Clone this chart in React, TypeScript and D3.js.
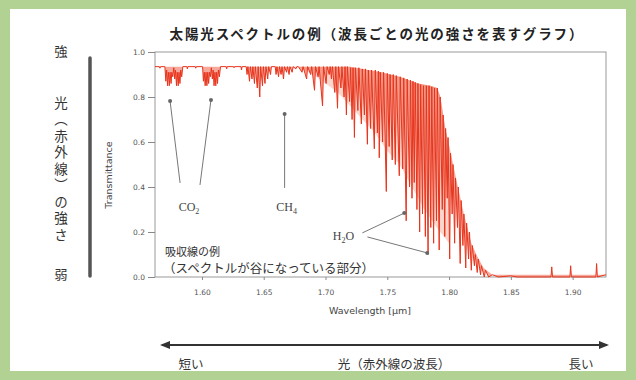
import React, { useEffect, useRef } from 'react';
import * as d3 from 'd3';

const TITLE = '太陽光スペクトルの例（波長ごとの光の強さを表すグラフ）';
const X_TICKS = [1.6, 1.65, 1.7, 1.75, 1.8, 1.85, 1.9];
const Y_TICKS = [0, 0.2, 0.4, 0.6, 0.8, 1.0];

// 透過率スペクトル [波長 µm, 透過率]
const SPECTRUM: [number, number][] = [
  [1.562, 0.935], [1.5655, 0.935], [1.566, 0.928], [1.5665, 0.935],
  [1.57, 0.935], [1.5708, 0.87], [1.5714, 0.92], [1.5722, 0.85], [1.5728, 0.91], [1.5736, 0.85],
  [1.5742, 0.91], [1.575, 0.86], [1.5756, 0.91], [1.5764, 0.89], [1.5772, 0.93], [1.578, 0.88],
  [1.5786, 0.92], [1.5794, 0.85], [1.58, 0.91], [1.5808, 0.85], [1.5814, 0.91], [1.5822, 0.86],
  [1.5828, 0.92], [1.5836, 0.89], [1.5845, 0.935],
  [1.5878, 0.935], [1.5882, 0.925], [1.5886, 0.935], [1.5946, 0.935], [1.595, 0.928], [1.5954, 0.935],
  [1.6005, 0.935], [1.6012, 0.87], [1.6019, 0.91], [1.6026, 0.85], [1.6033, 0.91], [1.604, 0.85],
  [1.6047, 0.91], [1.6054, 0.86], [1.6061, 0.91], [1.6068, 0.89], [1.6076, 0.93], [1.6084, 0.88],
  [1.6091, 0.92], [1.6098, 0.85], [1.6105, 0.91], [1.6112, 0.85], [1.6119, 0.91], [1.6126, 0.86],
  [1.6133, 0.92], [1.6141, 0.89], [1.615, 0.935],
  [1.6196, 0.935], [1.62, 0.925], [1.6204, 0.935], [1.6256, 0.935], [1.626, 0.93], [1.6264, 0.935],
  [1.6316, 0.935], [1.632, 0.92], [1.6325, 0.935],
  [1.6358, 0.935], [1.6365, 0.9], [1.6372, 0.935], [1.6385, 0.87], [1.6392, 0.935], [1.6405, 0.88],
  [1.6412, 0.935], [1.6425, 0.86], [1.6432, 0.935], [1.6448, 0.84], [1.6455, 0.935], [1.6468, 0.8],
  [1.6475, 0.935], [1.649, 0.85], [1.6497, 0.935], [1.651, 0.86], [1.6518, 0.935], [1.6532, 0.88],
  [1.654, 0.935], [1.6555, 0.9], [1.6562, 0.935],
  [1.6593, 0.935], [1.66, 0.9], [1.6607, 0.935], [1.662, 0.89], [1.6628, 0.935], [1.664, 0.9],
  [1.6648, 0.935], [1.666, 0.88], [1.6668, 0.935], [1.6685, 0.91], [1.6692, 0.935], [1.6705, 0.9],
  [1.6712, 0.935], [1.673, 0.91], [1.6738, 0.935], [1.676, 0.925], [1.6768, 0.935],
  [1.678, 0.935], [1.681, 0.91], [1.6818, 0.935], [1.6847, 0.88], [1.6855, 0.935], [1.688, 0.9],
  [1.6888, 0.935], [1.6911, 0.83], [1.6919, 0.935], [1.694, 0.89], [1.6948, 0.935], [1.6976, 0.76],
  [1.6984, 0.935], [1.7005, 0.86], [1.7013, 0.935], [1.703, 0.9], [1.7038, 0.935], [1.7048, 0.88],
  [1.7056, 0.935], [1.7075, 0.82], [1.7083, 0.935], [1.7097, 0.75], [1.7105, 0.935], [1.7125, 0.84],
  [1.7133, 0.935], [1.715, 0.8], [1.7158, 0.935], [1.7169, 0.72], [1.7177, 0.935], [1.7195, 0.78],
  [1.7203, 0.93], [1.7215, 0.7], [1.7223, 0.93], [1.7234, 0.62], [1.7242, 0.93], [1.7262, 0.74],
  [1.727, 0.93], [1.729, 0.68], [1.7298, 0.925], [1.7315, 0.72], [1.7323, 0.925], [1.7339, 0.59],
  [1.7347, 0.92], [1.7365, 0.66], [1.7373, 0.92], [1.7395, 0.57], [1.7403, 0.92], [1.742, 0.64],
  [1.7428, 0.915], [1.7435, 0.53], [1.7443, 0.91], [1.7462, 0.6], [1.747, 0.91], [1.7492, 0.38],
  [1.75, 0.905], [1.7515, 0.58], [1.7523, 0.9], [1.754, 0.52], [1.7548, 0.9], [1.7565, 0.5],
  [1.7573, 0.895], [1.7597, 0.45], [1.7605, 0.89], [1.7625, 0.48], [1.7633, 0.885], [1.7653, 0.25],
  [1.7661, 0.88], [1.768, 0.4], [1.7688, 0.875], [1.77, 0.35], [1.7708, 0.87], [1.7718, 0.42],
  [1.7726, 0.865], [1.774, 0.3], [1.7748, 0.86], [1.7762, 0.2], [1.777, 0.855], [1.7785, 0.28],
  [1.7793, 0.85], [1.7808, 0.18], [1.7816, 0.85], [1.783, 0.1], [1.7838, 0.85], [1.7852, 0.22],
  [1.786, 0.845], [1.7875, 0.15], [1.7882, 0.84], [1.7898, 0.25], [1.7905, 0.84], [1.792, 0.12],
  [1.7928, 0.8], [1.7945, 0.3], [1.7952, 0.72], [1.7965, 0.18], [1.7972, 0.66], [1.7985, 0.35],
  [1.7992, 0.62], [1.8005, 0.08], [1.8012, 0.55], [1.8025, 0.28], [1.8032, 0.5], [1.8045, 0.15],
  [1.8052, 0.44], [1.8068, 0.22], [1.8075, 0.4], [1.809, 0.06], [1.8098, 0.34], [1.8112, 0.14],
  [1.812, 0.28], [1.8135, 0.04], [1.8142, 0.24], [1.8158, 0.08], [1.8165, 0.2], [1.818, 0.03],
  [1.8188, 0.14], [1.8205, 0.05], [1.8212, 0.1], [1.8228, 0.02], [1.8236, 0.08], [1.8255, 0.01],
  [1.8262, 0.05], [1.8285, 0.0], [1.8295, 0.03], [1.832, 0.0], [1.835, 0.01], [1.84, 0.0],
  [1.85, 0.005], [1.855, 0.0], [1.8825, 0.0], [1.8831, 0.045], [1.8837, 0.0], [1.8978, 0.0],
  [1.8984, 0.05], [1.899, 0.0], [1.9188, 0.0], [1.9194, 0.06], [1.92, 0.0], [1.927, 0.01],
];

// 吸収のない部分の上側の包絡線
const CONTINUUM: [number, number][] = [
  [1.562, 0.935], [1.72, 0.935], [1.73, 0.925], [1.745, 0.91], [1.76, 0.89], [1.775, 0.86],
  [1.785, 0.85], [1.7905, 0.84], [1.793, 0.8], [1.797, 0.66], [1.801, 0.56], [1.806, 0.43],
  [1.812, 0.28], [1.818, 0.15], [1.823, 0.09], [1.828, 0.04], [1.835, 0.01], [1.927, 0.01],
];

// 吸収線が密集している部分の下側の目安（薄い塗り）
const DENSE_TOP: [number, number][] = [
  [1.678, 0.935], [1.72, 0.935], [1.73, 0.925], [1.745, 0.91], [1.76, 0.89], [1.775, 0.86],
  [1.785, 0.85], [1.7905, 0.84], [1.793, 0.8], [1.797, 0.66], [1.8, 0.58],
];
const DENSE_LOWER: [number, number][] = [
  [1.678, 0.935], [1.69, 0.9], [1.70, 0.86], [1.71, 0.82], [1.72, 0.76], [1.73, 0.7],
  [1.74, 0.64], [1.75, 0.56], [1.76, 0.5], [1.77, 0.4], [1.78, 0.3], [1.79, 0.22], [1.8, 0.15],
];

// 吸収線の注釈（データ座標）
const ANNOTATIONS = [
  { label: 'CO', sub: '2', at: [1.5895, 0.293], lines: [[[1.5823, 0.418], [1.5742, 0.782]], [[1.5984, 0.409], [1.6073, 0.787]]] },
  { label: 'CH', sub: '4', at: [1.6685, 0.293], lines: [[[1.6669, 0.396], [1.6669, 0.724]]] },
  { label: 'H', sub: '2', tail: 'O', at: [1.7145, 0.164], lines: [[[1.7298, 0.196], [1.7637, 0.284]], [[1.7339, 0.178], [1.7823, 0.107]]] },
];

const JP = '"Noto Sans CJK JP", sans-serif';
const SANS = '"DejaVu Sans", sans-serif';
const SERIF = '"Liberation Serif", serif';

export default function App() {
  const svgRef = useRef<SVGSVGElement>(null);

  useEffect(() => {
    if (!svgRef.current) return;
    const svg = d3.select(svgRef.current);
    svg.selectAll('*').remove();

    const W = 636, H = 380;
    const left = 155, right = 606, top = 52, bottom = 277;

    // 背景（緑の枠）
    svg.append('rect').attr('width', W).attr('height', H).attr('fill', '#b1d293');
    svg.append('rect').attr('x', 10).attr('y', 9).attr('width', W - 20).attr('height', H - 18).attr('fill', '#ffffff');

    const defs = svg.append('defs');
    defs.append('marker')
      .attr('id', 'arr')
      .attr('viewBox', '0 0 10 10')
      .attr('refX', 8).attr('refY', 5)
      .attr('markerWidth', 5).attr('markerHeight', 5)
      .attr('orient', 'auto-start-reverse')
      .append('path').attr('d', 'M0,1 L10,5 L0,9 Z').attr('fill', '#333');

    const x = d3.scaleLinear().domain([1.562, 1.927]).range([left, right]);
    const y = d3.scaleLinear().domain([0, 1]).range([bottom, top]);

    // タイトル
    svg.append('text')
      .attr('x', 376).attr('y', 39)
      .attr('text-anchor', 'middle')
      .attr('textLength', 413)
      .attr('lengthAdjust', 'spacing')
      .style('font-family', JP).style('font-size', '13.5px').style('font-weight', 'bold')
      .attr('fill', '#222')
      .text(TITLE);

    // プロット枠
    svg.append('rect')
      .attr('x', left).attr('y', top)
      .attr('width', right - left).attr('height', bottom - top)
      .attr('fill', '#fff').attr('stroke', '#999').attr('stroke-width', 1);

    const line = d3.line<[number, number]>().x(d => x(d[0])).y(d => y(d[1]));

    // 密集部分の薄い塗り
    svg.append('path')
      .attr('d', line([...DENSE_TOP, ...DENSE_LOWER.slice().reverse()]) + 'Z')
      .attr('fill', '#f8b4a4')
      .attr('opacity', 0.55);

    // 吸収部分の塗り
    svg.append('path')
      .attr('d', line([...CONTINUUM, ...SPECTRUM.slice().reverse()]) + 'Z')
      .attr('fill', '#f07058')
      .attr('opacity', 0.6);

    // スペクトル
    svg.append('path')
      .datum(SPECTRUM)
      .attr('d', line)
      .attr('fill', 'none')
      .attr('stroke', '#e8341c')
      .attr('stroke-width', 1);

    // 軸
    const gy = svg.append('g')
      .attr('transform', `translate(${left},0)`)
      .call(d3.axisLeft(y).tickValues(Y_TICKS).tickFormat(d3.format('.1f')).tickSize(7).tickPadding(3));
    const gx = svg.append('g')
      .attr('transform', `translate(0,${bottom})`)
      .call(d3.axisBottom(x).tickValues(X_TICKS).tickFormat(d3.format('.2f')).tickSize(3).tickPadding(10));
    [gx, gy].forEach(g => {
      g.select('.domain').remove();
      g.selectAll('line').attr('stroke', '#888');
      g.selectAll('text').attr('fill', '#555').style('font-family', SANS).style('font-size', '7.5px');
    });

    svg.append('text')
      .attr('x', 370).attr('y', 314)
      .attr('text-anchor', 'middle')
      .style('font-family', SANS).style('font-size', '9.5px')
      .attr('fill', '#444')
      .text('Wavelength [µm]');

    svg.append('text')
      .attr('transform', 'translate(112,175) rotate(-90)')
      .attr('text-anchor', 'middle')
      .style('font-family', SANS).style('font-size', '9.5px')
      .attr('fill', '#444')
      .text('Transmittance');

    // 注釈
    ANNOTATIONS.forEach(a => {
      a.lines.forEach(([p0, p1]) => {
        svg.append('line')
          .attr('x1', x(p0[0])).attr('y1', y(p0[1]))
          .attr('x2', x(p1[0])).attr('y2', y(p1[1]))
          .attr('stroke', '#777').attr('stroke-width', 1);
        svg.append('circle')
          .attr('cx', x(p1[0])).attr('cy', y(p1[1])).attr('r', 2)
          .attr('fill', '#666');
      });
      const t = svg.append('text')
        .attr('x', x(a.at[0])).attr('y', y(a.at[1]))
        .attr('text-anchor', 'middle')
        .style('font-family', SERIF).style('font-size', '12px')
        .attr('fill', '#444');
      t.append('tspan').text(a.label);
      t.append('tspan').attr('dy', 3).style('font-size', '8px').text(a.sub);
      if (a.tail) t.append('tspan').attr('dy', -3).text(a.tail);
    });

    svg.append('text')
      .attr('x', 165).attr('y', 256)
      .style('font-family', JP).style('font-size', '11px')
      .attr('fill', '#333')
      .text('吸収線の例');
    svg.append('text')
      .attr('x', 163).attr('y', 273)
      .style('font-family', JP).style('font-size', '12.5px')
      .attr('fill', '#333')
      .text('（スペクトルが谷になっている部分）');

    // 縦方向：光の強さ
    svg.append('line')
      .attr('x1', 90).attr('y1', 58).attr('x2', 90).attr('y2', 276)
      .attr('stroke', '#555').attr('stroke-width', 3.5).attr('stroke-linecap', 'round');
    svg.append('text')
      .attr('x', 61).attr('y', 56)
      .attr('text-anchor', 'middle')
      .style('font-family', JP).style('font-size', '13px')
      .attr('fill', '#333')
      .text('強');
    svg.append('text')
      .attr('x', 61).attr('y', 170)
      .attr('text-anchor', 'middle')
      .style('writing-mode', 'vertical-rl')
      .style('letter-spacing', '3px')
      .style('font-family', JP).style('font-size', '13.5px')
      .attr('fill', '#333')
      .text('光（赤外線）の強さ');
    svg.append('text')
      .attr('x', 61).attr('y', 279)
      .attr('text-anchor', 'middle')
      .style('font-family', JP).style('font-size', '13px')
      .attr('fill', '#333')
      .text('弱');

    // 横方向：波長
    svg.append('line')
      .attr('x1', 162).attr('y1', 345).attr('x2', 607).attr('y2', 345)
      .attr('stroke', '#333').attr('stroke-width', 2)
      .attr('marker-start', 'url(#arr)').attr('marker-end', 'url(#arr)');
    [['短い', 191], ['光（赤外線の波長）', 394], ['長い', 581]].forEach(([s, cx]) => {
      svg.append('text')
        .attr('x', cx as number).attr('y', 369)
        .attr('text-anchor', 'middle')
        .style('font-family', JP).style('font-size', '12.5px')
        .attr('fill', '#333')
        .text(s as string);
    });
  }, []);

  return (
    <svg ref={svgRef} width={636} height={380} style={{ position: 'absolute', left: 0, top: 0 }} />
  );
}
